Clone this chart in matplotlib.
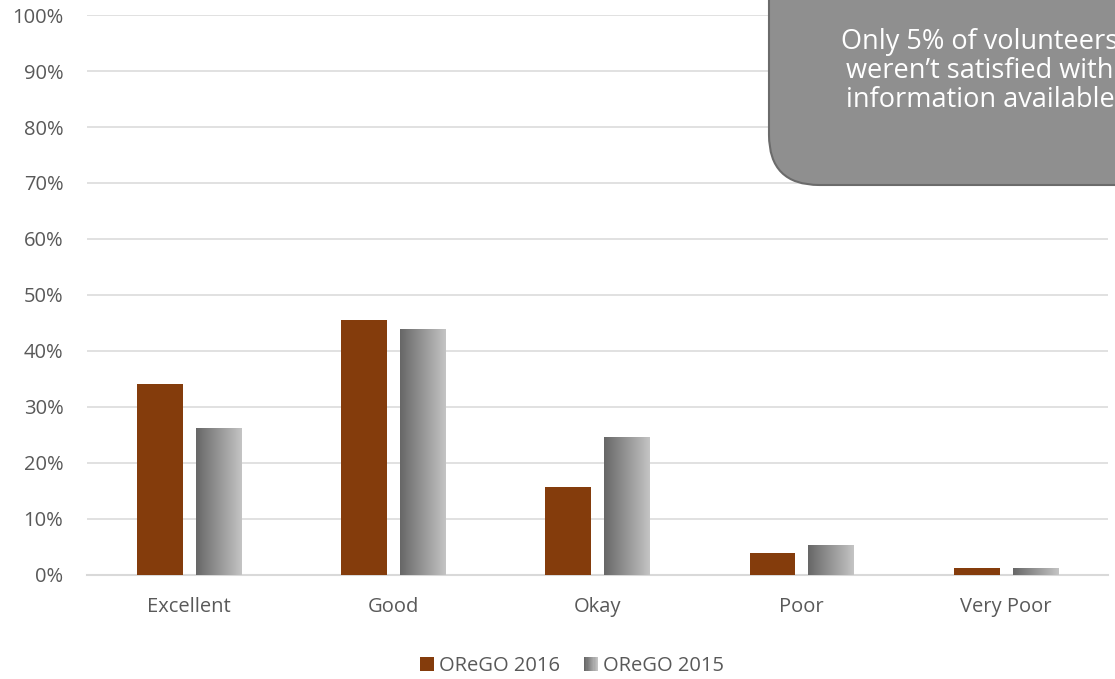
import numpy as np
from matplotlib import pyplot as plt
from matplotlib.patches import FancyBboxPatch, Rectangle
from matplotlib.legend_handler import HandlerBase

categories = ["Excellent", "Good", "Okay", "Poor", "Very Poor"]
orego_2016 = [0.341, 0.455, 0.157, 0.039, 0.0125]
orego_2015 = [0.261, 0.439, 0.245, 0.052, 0.011]
series_names = ["OReGO 2016", "OReGO 2015"]
callout = "Only 5% of volunteers\nweren\u2019t satisfied with\ninformation available"

RED = "#843c0c"
TXT = "#595959"
FONT = ["Open Sans", "DejaVu Sans"]

grad = np.linspace(0, 1, 256).reshape(1, -1)
gray_cmap = plt.matplotlib.colors.LinearSegmentedColormap.from_list("g", ["#676767", "#c4c4c4"])


class GradHandler(HandlerBase):
    def create_artists(self, legend, orig_handle, xdescent, ydescent, width, height, fontsize, trans):
        n = 12
        out = []
        for i in range(n):
            c = gray_cmap(i / (n - 1))
            out.append(Rectangle((-xdescent + width * i / n, -ydescent), width / n + 0.01, height,
                                 facecolor=c, edgecolor="none", transform=trans))
        return out


def main():
    plt.rcParams["font.family"] = FONT
    fig = plt.figure(figsize=(11.15, 6.79), dpi=100)
    ax = fig.add_axes([0.078, 0.1532, 0.9157, 0.8247])

    x = np.arange(len(categories))
    w = 0.225
    b16 = ax.bar(x - 0.143, orego_2016, w, color=RED, zorder=3)
    b15 = ax.bar(x + 0.145, orego_2015, w, color="none", zorder=3)
    for r in b15:
        ax.imshow(grad, cmap=gray_cmap, aspect="auto", zorder=3,
                  extent=(r.get_x(), r.get_x() + r.get_width(), 0, r.get_height()))

    ax.set_xlim(-0.5, len(categories) - 0.5)
    ax.set_ylim(0, 1)
    ax.set_yticks(np.arange(0, 1.01, 0.1))
    ax.set_yticklabels([f"{int(round(v * 100))}%" for v in np.arange(0, 1.01, 0.1)])
    ax.set_xticks(x)
    ax.set_xticklabels(categories)
    ax.tick_params(length=0, labelsize=14.5, colors=TXT)
    ax.tick_params(axis="x", pad=16)
    ax.tick_params(axis="y", pad=17)
    ax.grid(axis="y", color="#d9d9d9", lw=1.1, zorder=0)
    for s in ["top", "right", "left"]:
        ax.spines[s].set_visible(False)
    ax.spines["bottom"].set_color("#d9d9d9")
    ax.spines["bottom"].set_linewidth(1.5)

    leg = ax.legend([b16[0], b15[0]], series_names, loc="center", bbox_to_anchor=(0.475, -0.162),
                    ncol=2, frameon=False, fontsize=14.5, handlelength=0.7, handleheight=0.7,
                    handletextpad=0.25, columnspacing=1.2, handler_map={b15[0]: GradHandler()})
    for t in leg.get_texts():
        t.set_color(TXT)

    # callout box running off the top right corner
    box = FancyBboxPatch((769 / 1115, 1 - 185 / 679), 0.5, 0.5, transform=fig.transFigure,
                         boxstyle="round,pad=0,rounding_size=0.045", facecolor="#8f8f8f",
                         edgecolor="#6b6b6b", lw=1.5, zorder=10, mutation_aspect=1115 / 679)
    fig.patches.append(box)
    fig.text(980 / 1115, 1 - 71 / 679, callout, ha="center", va="center", color="white",
             fontsize=19.5, linespacing=1.06, zorder=11)

    fig.savefig("out.png", dpi=100)


if __name__ == "__main__":
    main()
